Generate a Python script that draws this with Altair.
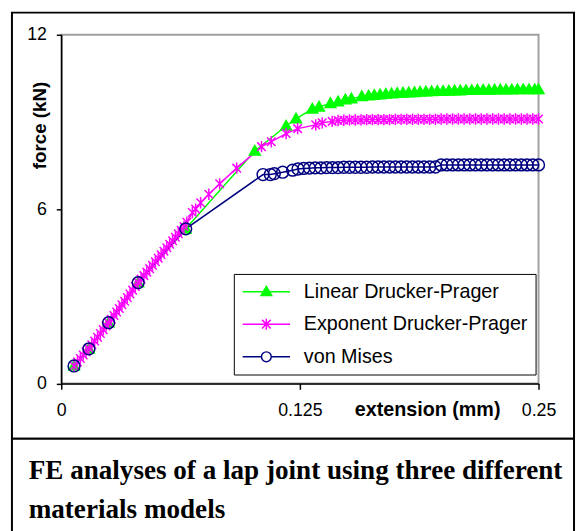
import altair as alt
import pandas as pd

# ---------------- data ----------------
series_names = ["Linear Drucker-Prager", "Exponent Drucker-Prager", "von Mises"]
series_colors = ["#00ff00", "#ff00ff", "#000080"]

lin_x = [0.0067, 0.0145, 0.0248, 0.0403, 0.0652, 0.1014, 0.1178, 0.1230, 0.1315, 0.1350,
         0.1410, 0.1450, 0.1488, 0.1520, 0.1574, 0.1610, 0.1640, 0.1670, 0.1700, 0.1730,
         0.1760, 0.1790, 0.1820, 0.1850, 0.1880, 0.1910, 0.1940, 0.1970, 0.2000, 0.2030,
         0.2060, 0.2090, 0.2120, 0.2150, 0.2180, 0.2210, 0.2240, 0.2270, 0.2300, 0.2330,
         0.2360, 0.2390, 0.2420, 0.2450, 0.2480, 0.2500]
lin_f = [0.60, 1.19, 2.09, 3.47, 5.32, 8.00, 8.86, 9.11, 9.45, 9.52,
         9.64, 9.70, 9.77, 9.80, 9.88, 9.90, 9.92, 9.94, 9.96, 9.97,
         9.99, 10.00, 10.01, 10.02, 10.03, 10.04, 10.05, 10.06, 10.06, 10.07,
         10.08, 10.08, 10.09, 10.09, 10.10, 10.10, 10.10, 10.11, 10.11, 10.11,
         10.11, 10.12, 10.12, 10.12, 10.12, 10.12]

exp_x = [0.0067, 0.0085, 0.0100, 0.0115, 0.0130, 0.0145, 0.0160, 0.0175, 0.0190, 0.0205,
         0.0220, 0.0235, 0.0248, 0.0262, 0.0276, 0.0290, 0.0304, 0.0318, 0.0332, 0.0346,
         0.0360, 0.0374, 0.0388, 0.0403, 0.0418, 0.0433, 0.0448, 0.0463, 0.0478, 0.0493,
         0.0508, 0.0523, 0.0538, 0.0553, 0.0568, 0.0583, 0.0598, 0.0613, 0.0628, 0.0643,
         0.0658, 0.0687, 0.0704, 0.0730, 0.0773, 0.0830, 0.0919, 0.1049, 0.1100, 0.1178,
         0.1238, 0.1333, 0.1367, 0.1419, 0.1450, 0.1480, 0.1510, 0.1540, 0.1570, 0.1600,
         0.1630, 0.1660, 0.1690, 0.1720, 0.1750, 0.1780, 0.1810, 0.1840, 0.1870, 0.1900,
         0.1930, 0.1960, 0.1990, 0.2020, 0.2050, 0.2080, 0.2110, 0.2140, 0.2170, 0.2200,
         0.2230, 0.2260, 0.2290, 0.2320, 0.2350, 0.2380, 0.2410, 0.2440, 0.2470, 0.2500]
exp_f = [0.60, 0.74, 0.86, 0.98, 1.09, 1.20, 1.33, 1.46, 1.59, 1.72,
         1.85, 1.98, 2.09, 2.21, 2.34, 2.46, 2.58, 2.71, 2.83, 2.96,
         3.08, 3.21, 3.34, 3.47, 3.59, 3.71, 3.83, 3.95, 4.07, 4.19,
         4.31, 4.43, 4.55, 4.67, 4.79, 4.91, 5.03, 5.15, 5.27, 5.40,
         5.55, 5.88, 6.00, 6.22, 6.51, 6.87, 7.41, 8.15, 8.32, 8.60,
         8.77, 8.90, 8.97, 9.02, 9.05, 9.06, 9.07, 9.07, 9.07, 9.08,
         9.08, 9.08, 9.08, 9.08, 9.09, 9.09, 9.09, 9.09, 9.09, 9.09,
         9.09, 9.09, 9.10, 9.10, 9.10, 9.10, 9.10, 9.10, 9.10, 9.10,
         9.10, 9.10, 9.10, 9.10, 9.10, 9.10, 9.10, 9.10, 9.10, 9.10]

vm_x = [0.0067, 0.0145, 0.0248, 0.0403, 0.0652, 0.1057, 0.1095, 0.1116, 0.1160, 0.1212,
        0.1240, 0.1270, 0.1300, 0.1330, 0.1360, 0.1390, 0.1420, 0.1450, 0.1480, 0.1510,
        0.1540, 0.1570, 0.1600, 0.1630, 0.1660, 0.1690, 0.1720, 0.1750, 0.1780, 0.1810,
        0.1840, 0.1870, 0.1900, 0.1930, 0.1960, 0.1990, 0.2020, 0.2050, 0.2080, 0.2110,
        0.2140, 0.2170, 0.2200, 0.2230, 0.2260, 0.2290, 0.2320, 0.2350, 0.2380, 0.2410,
        0.2440, 0.2470, 0.2500]
vm_f = [0.60, 1.19, 2.09, 3.47, 5.32, 7.19, 7.19, 7.22, 7.27, 7.34,
        7.38, 7.40, 7.41, 7.42, 7.42, 7.43, 7.43, 7.43, 7.44, 7.44,
        7.44, 7.44, 7.44, 7.45, 7.45, 7.45, 7.45, 7.45, 7.45, 7.45,
        7.45, 7.45, 7.45, 7.45, 7.45, 7.52, 7.52, 7.52, 7.52, 7.52,
        7.52, 7.52, 7.52, 7.52, 7.52, 7.52, 7.52, 7.52, 7.52, 7.52,
        7.52, 7.52, 7.52]

x_ticks = [0, 0.125, 0.25]
y_ticks = [0, 6, 12]
caption_lines = ["FE analyses of a lap joint using three different", "materials models"]

# ---------------- table ----------------
rows = []
for name, xs, fs in zip(series_names, [lin_x, exp_x, vm_x], [lin_f, exp_f, vm_f]):
    for i, (xv, fv) in enumerate(zip(xs, fs)):
        rows.append({"series": name, "extension": xv, "force": fv, "idx": i})
df = pd.DataFrame(rows)

# marker shapes (unit square -1..1)
marker_paths = [
    "M0,-1L1,0.75L-1,0.75Z",
    "M0,-1V1M-0.75,-0.75L0.75,0.75M-0.75,0.75L0.75,-0.75",
    "circle",
]
marker_sizes = [121, 144, 100]
# legend symbols: line with marker in the middle
legend_paths = [
    "M-3,0H3M0,-0.66L0.68,0.5L-0.68,0.5Z",
    "M-3,0H3M0,-0.7V0.7M-0.55,-0.55L0.55,0.55M-0.55,0.55L0.55,-0.55",
    "M-3,0H-0.62M0.62,0H3M-0.62,0A0.62,0.62 0 1,0 0.62,0A0.62,0.62 0 1,0 -0.62,0Z",
]
point_fills = ["#00ff00", "transparent", "transparent"]
legend_fills = ["#00ff00", "transparent", "white"]

W, H = 484, 353.5
FONT = "Liberation Sans"

xenc = alt.X(
    "extension:Q",
    scale=alt.Scale(domain=[0, 0.25], nice=False, zero=False),
    axis=alt.Axis(
        values=x_ticks, format=".3~g", grid=False, tickSize=6, labelPadding=13,
        labelFontSize=18, labelFlush=False, labelOverlap=False,
        title="extension (mm)", titleFontSize=20, titleFontWeight="bold",
        titleX=371, titleY=33, titleAlign="center", titleBaseline="alphabetic",
    ),
)
yenc = alt.Y(
    "force:Q",
    scale=alt.Scale(domain=[0, 12], nice=False),
    axis=alt.Axis(
        values=y_ticks, format=".3~g", grid=False, tickSize=5, labelPadding=10,
        labelFontSize=18, labelFlush=False, labelOverlap=False,
        title="force (kN)", titleFontSize=19, titleFontWeight="bold",
        titleAngle=270, titleX=-16, titleY=91.5, titleAlign="center",
        titleBaseline="alphabetic",
    ),
)

base = alt.Chart(df)

lines = base.mark_line(strokeWidth=1.5).encode(
    x=xenc, y=yenc,
    color=alt.Color("series:N", scale=alt.Scale(domain=series_names, range=series_colors), legend=None),
    order="idx:Q",
)

points = base.mark_point(filled=False, strokeWidth=1.5, opacity=1).encode(
    x=xenc, y=yenc,
    color=alt.Color("series:N", scale=alt.Scale(domain=series_names, range=series_colors), legend=None),
    shape=alt.Shape("series:N", scale=alt.Scale(domain=series_names, range=marker_paths), legend=None),
    fill=alt.Fill("series:N", scale=alt.Scale(domain=series_names, range=point_fills), legend=None),
    size=alt.Size("series:N", scale=alt.Scale(domain=series_names, range=marker_sizes), legend=None),
)

leg = alt.Legend(
    orient="none", legendX=175, legendY=242.5, title=None,
    strokeColor="black", fillColor="white", padding=8, cornerRadius=0,
    labelFont=FONT, labelFontSize=20, labelColor="black", labelLimit=400,
    labelOffset=28, symbolOffset=15, rowPadding=13,
    symbolStrokeWidth=1.5, symbolSize=256,
)
legend_layer = base.mark_point(filled=False, strokeWidth=1.5, size=256, opacity=1).encode(
    x=xenc, y=yenc,
    color=alt.Color("series:N", scale=alt.Scale(domain=series_names, range=series_colors), legend=leg),
    shape=alt.Shape("series:N", scale=alt.Scale(domain=series_names, range=legend_paths), legend=leg),
    fill=alt.Fill("series:N", scale=alt.Scale(domain=series_names, range=legend_fills), legend=leg),
).transform_filter("false")

dummy = alt.Chart(pd.DataFrame({"k": [0]}))
frame_top = dummy.mark_rect(fill="transparent", stroke="black", strokeWidth=2).encode(
    x=alt.value(-50), x2=alt.value(520), y=alt.value(-22.5), y2=alt.value(409.5)
)
frame_bottom = dummy.mark_rect(fill="transparent", stroke="black", strokeWidth=2).encode(
    x=alt.value(-50), x2=alt.value(520), y=alt.value(409.5), y2=alt.value(530)
)
caption = dummy.mark_text(
    font="Liberation Serif", fontSize=27.5, fontWeight="bold", align="left",
    baseline="alphabetic", lineHeight=39, color="black",
).encode(x=alt.value(-33), y=alt.value(450.5), text=alt.value(caption_lines))

chart = alt.layer(frame_top, frame_bottom, lines, points, legend_layer, caption).resolve_scale(
    color="independent", shape="independent", fill="independent", size="independent"
).properties(
    width=W, height=H,
    autosize=alt.AutoSizeParams(type="none"),
    padding={"left": 54, "top": 23.5, "right": 38, "bottom": 146},
    background="white",
).configure_view(
    stroke="#a0a0a0", strokeWidth=2
).configure_axis(
    domainColor="black", domainWidth=1.5, tickColor="black", tickWidth=1.5,
    labelColor="black", titleColor="black", labelFont=FONT, titleFont=FONT,
)

chart.save("out.html", embed_options={"renderer": "svg", "actions": False})
